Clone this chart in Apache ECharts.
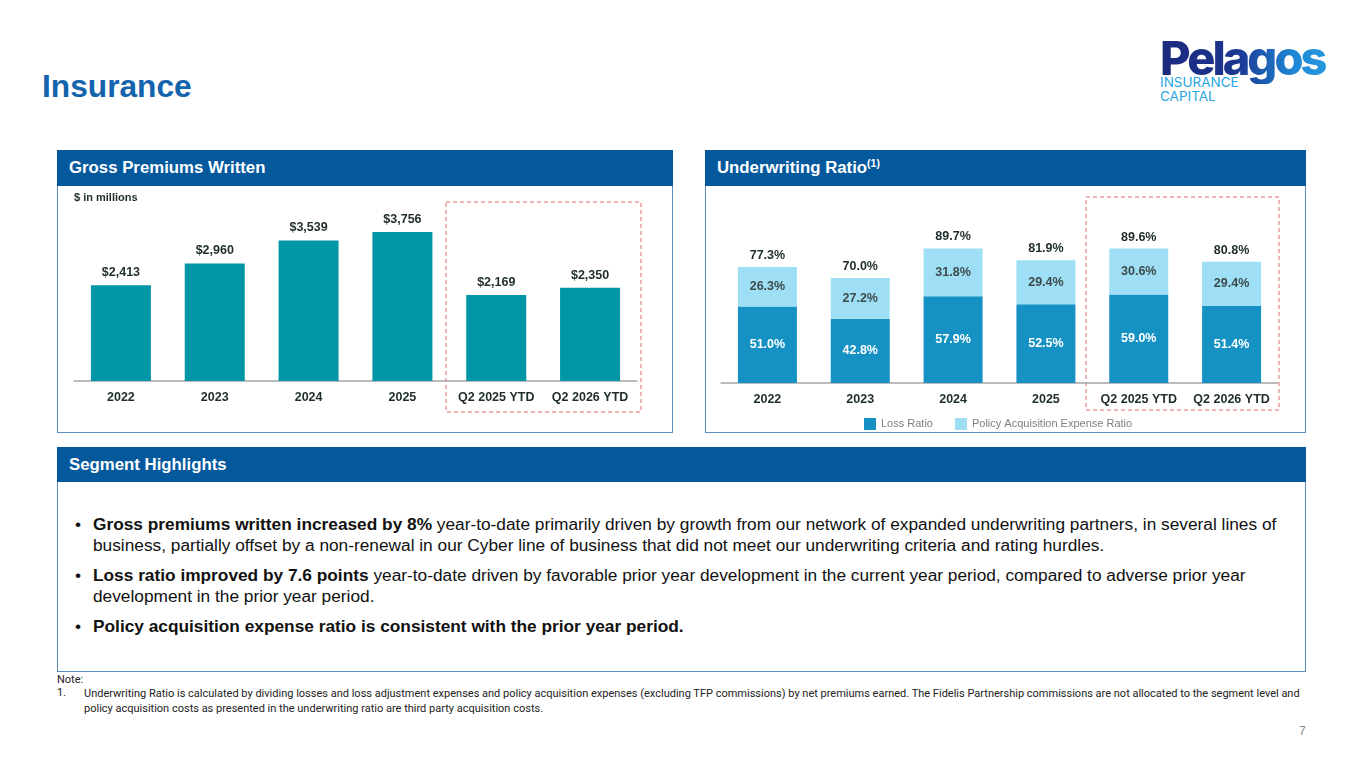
<!DOCTYPE html>
<html>
<head>
<meta charset="utf-8">
<script src="https://cdn.jsdelivr.net/npm/echarts@6/dist/echarts.min.js"></script>
<style>
  body { margin: 0; width: 1365px; height: 768px; position: relative; background: #fff; overflow: hidden;
         font-family: "Liberation Sans", Arial, sans-serif; }
  .panel { position: absolute; border: 1px solid #5a8cc0; box-sizing: border-box; }
  .hdr { position: absolute; left: -1px; top: -1px; right: -1px; height: 36px; background: #04599d; color: #fff;
         font-weight: bold; font-size: 16.8px; line-height: 36px; padding-left: 12px; }
  .hdr sup { font-size: 10.5px; vertical-align: 6px; line-height: 0; }
  .chart { position: absolute; }
  .bul { position: absolute; left: 75px; font-size: 17.3px; line-height: 21px; color: #111; white-space: nowrap; }
  .bul p { margin: 0 0 9px 0; padding-left: 18px; position: relative; }
  .bul p:before { content: "\2022"; position: absolute; left: 0; top: 0; }
  .note { position: absolute; left: 57px; font-family: Roboto, "Noto Sans", sans-serif; font-size: 11px; color: #222; white-space: nowrap; }
</style>
</head>
<body>

<div style="position:absolute;left:42px;top:68px;font-size:31.7px;font-weight:bold;color:#1363ad;">Insurance</div>

<div style="position:absolute;left:1160px;top:32px;width:190px;">
  <div style="font-family:Inter,sans-serif;font-weight:800;font-size:47px;letter-spacing:-3px;line-height:52px;
              background:linear-gradient(90deg,#1b2a7c 0%,#1b3590 40%,#1d86d4 70%,#2ba6e6 100%);
              -webkit-background-clip:text;background-clip:text;color:transparent;">Pelagos</div>
  <div style="font-family:Inter,sans-serif;font-size:13.5px;color:#2aa6e2;line-height:14px;margin-top:-9px;">INSURANCE<br>CAPITAL</div>
</div>

<div class="panel" style="left:57px;top:150px;width:616px;height:283px;">
  <div class="hdr">Gross Premiums Written</div>
</div>
<div id="gpw" class="chart" style="left:58px;top:186px;width:613px;height:245px;"></div>

<div class="panel" style="left:705px;top:150px;width:601px;height:283px;">
  <div class="hdr">Underwriting Ratio<sup>(1)</sup></div>
</div>
<div id="ratio" class="chart" style="left:706px;top:186px;width:598px;height:245px;"></div>

<div class="panel" style="left:57px;top:447px;width:1249px;height:225px;">
  <div class="hdr" style="height:35px;line-height:35px;">Segment Highlights</div>
</div>
<div class="bul" style="top:514px;">
  <p><b>Gross premiums written increased by 8%</b> year-to-date primarily driven by growth from our network of expanded underwriting partners, in several lines of<br>business, partially offset by a non-renewal in our Cyber line of business that did not meet our underwriting criteria and rating hurdles.</p>
  <p><b>Loss ratio improved by 7.6 points</b> year-to-date driven by favorable prior year development in the current year period, compared to adverse prior year<br>development in the prior year period.</p>
  <p><b>Policy acquisition expense ratio is consistent with the prior year period.</b></p>
</div>

<div class="note" style="top:673px;">Note:</div>
<div class="note" style="top:686px;">1.</div>
<div class="note" style="top:686px;left:84px;line-height:15px;">Underwriting Ratio is calculated by dividing losses and loss adjustment expenses and policy acquisition expenses (excluding TFP commissions) by net premiums earned. The Fidelis Partnership commissions are not allocated to the segment level and<br>policy acquisition costs as presented in the underwriting ratio are third party acquisition costs.</div>

<div style="position:absolute;left:1299px;top:724px;font-size:12px;color:#8a8a8a;">7</div>

<script>
const categories = ['2022', '2023', '2024', '2025', 'Q2 2025 YTD', 'Q2 2026 YTD'];
const premiums = [2413, 2960, 3539, 3756, 2169, 2350];
const lossRatio = [51.0, 42.8, 57.9, 52.5, 59.0, 51.4];
const acquisitionRatio = [26.3, 27.2, 31.8, 29.4, 30.6, 29.4];
const underwritingRatio = [77.3, 70.0, 89.7, 81.9, 89.6, 80.8];

const font = '"Liberation Sans", Arial, sans-serif';
const dark = '#1f2d2d';

const xAxisCommon = {
    type: 'category',
    data: categories,
    axisLine: { lineStyle: { color: '#a6a6a6', width: 1.5 } },
    axisTick: { show: false },
    axisLabel: { interval: 0, color: dark, fontWeight: 'bold', fontSize: 12.5, fontFamily: font, margin: 10 }
};

const dashBox = (x, y, w, h) => ({
    type: 'rect', silent: true,
    shape: { x: x, y: y, width: w, height: h },
    style: { fill: 'none', stroke: '#e06a6a', lineWidth: 1, lineDash: [4, 3] }
});

echarts.init(document.getElementById('gpw')).setOption({
    animation: false,
    title: {
        text: '$ in millions', left: 16, top: 6, padding: 0,
        textStyle: { fontSize: 11, fontWeight: 'bold', color: dark, fontFamily: font }
    },
    grid: { left: 16, right: 34, top: 16.4, bottom: 50 },
    xAxis: xAxisCommon,
    yAxis: { type: 'value', min: 0, max: 4500, show: false },
    series: [{
        type: 'bar',
        data: premiums,
        barWidth: 60,
        itemStyle: { color: '#0096a6' },
        label: {
            show: true, position: 'top', distance: 6,
            color: dark, fontWeight: 'bold', fontSize: 12.5, fontFamily: font,
            formatter: p => '$' + p.value.toLocaleString('en-US')
        }
    }],
    graphic: [dashBox(388, 16, 195, 210)]
});

echarts.init(document.getElementById('ratio')).setOption({
    animation: false,
    grid: { left: 15, right: 26, top: 47, bottom: 48 },
    legend: {
        data: ['Loss Ratio', 'Policy Acquisition Expense Ratio'],
        left: 158, top: 232, padding: 0, icon: 'rect', itemWidth: 12, itemHeight: 12, itemGap: 22,
        textStyle: { color: '#7f7f7f', fontSize: 11, fontFamily: font }
    },
    xAxis: xAxisCommon,
    yAxis: { type: 'value', min: 0, max: 100, show: false },
    series: [
        {
            name: 'Loss Ratio', type: 'bar', stack: 'uw', barWidth: 59,
            data: lossRatio,
            itemStyle: { color: '#1591c3' },
            label: {
                show: true, position: 'inside', color: '#fff', fontWeight: 'bold', fontSize: 12.5, fontFamily: font,
                formatter: p => p.value.toFixed(1) + '%'
            }
        },
        {
            name: 'Policy Acquisition Expense Ratio', type: 'bar', stack: 'uw', barWidth: 59,
            data: acquisitionRatio,
            itemStyle: { color: '#9edff5' },
            label: {
                show: true, position: 'inside', color: '#3d4b4b', fontWeight: 'bold', fontSize: 12.5, fontFamily: font,
                formatter: p => p.value.toFixed(1) + '%'
            }
        },
        {
            name: 'Total', type: 'bar', stack: 'uw', barWidth: 59, silent: true,
            data: underwritingRatio.map(() => 0),
            itemStyle: { color: 'transparent' },
            label: {
                show: true, position: 'top', distance: 5, color: dark, fontWeight: 'bold', fontSize: 12.5, fontFamily: font,
                formatter: p => underwritingRatio[p.dataIndex].toFixed(1) + '%'
            }
        }
    ],
    graphic: [dashBox(380, 11, 193, 213)]
});
</script>
</body>
</html>
